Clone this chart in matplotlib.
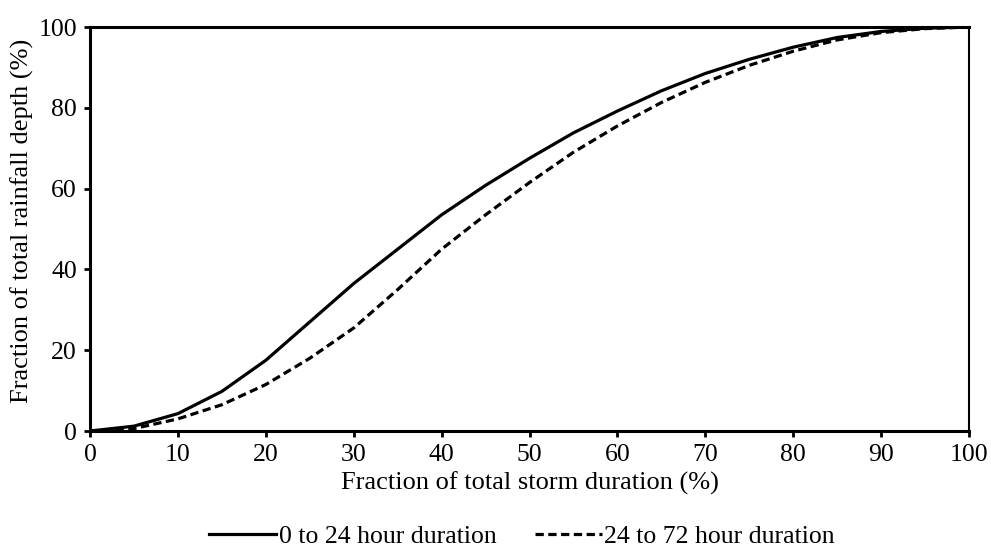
import matplotlib
matplotlib.use("Agg")
from matplotlib import pyplot as plt

plt.rcParams["font.family"] = ["Liberation Serif", "DejaVu Serif"]
plt.rcParams["font.size"] = 18.5

# Cumulative rainfall fraction vs. fraction of storm duration (every 5%)
duration = [0, 5, 10, 15, 20, 25, 30, 35, 40, 45, 50, 55, 60, 65, 70, 75, 80, 85, 90, 95, 100]
depth_0_24 = [0, 1.2, 4.3, 9.8, 17.5, 27.0, 36.5, 45.0, 53.5, 60.8, 67.5, 73.8, 79.2, 84.2,
              88.5, 92.0, 95.0, 97.4, 98.9, 99.7, 100]
depth_24_72 = [0, 0.6, 3.0, 6.5, 11.5, 18.0, 25.5, 35.0, 45.0, 53.5, 61.5, 69.0, 75.5, 81.3,
               86.3, 90.5, 94.0, 96.8, 98.6, 99.6, 100]

fig = plt.figure(figsize=(9.91, 5.47), dpi=100)
ax = fig.add_axes([90 / 991, 1 - 431 / 547, 879 / 991, 404 / 547])

ax.plot(duration, depth_0_24, color="black", lw=2.3, label="0 to 24 hour duration")
ax.plot(duration, depth_24_72, color="black", lw=2.3, ls=(0, (2.6, 1.4)), label="24 to 72 hour duration")

ax.set_xlim(0, 100)
ax.set_ylim(0, 100)
ax.set_xticks(range(0, 101, 10))
ax.set_yticks(range(0, 101, 20))
ax.tick_params(direction="out", length=4.5, width=2, pad=5)
for side in ["left", "bottom", "top"]:
    ax.spines[side].set_linewidth(2.2)
ax.spines["right"].set_linewidth(1.5)

ax.set_xlabel("Fraction of total storm duration (%)", fontsize=19, labelpad=4)
ax.set_ylabel("Fraction of total rainfall depth (%)", fontsize=19)
ax.yaxis.set_label_coords(-0.064, 0.52)

fig.legend(*ax.get_legend_handles_labels(), loc="center", bbox_to_anchor=(0.527, 0.019),
           ncol=2, frameon=False, handlelength=2.6, handletextpad=0.1, columnspacing=1.5,
           borderpad=0)

plt.savefig("out.png", dpi=100)
